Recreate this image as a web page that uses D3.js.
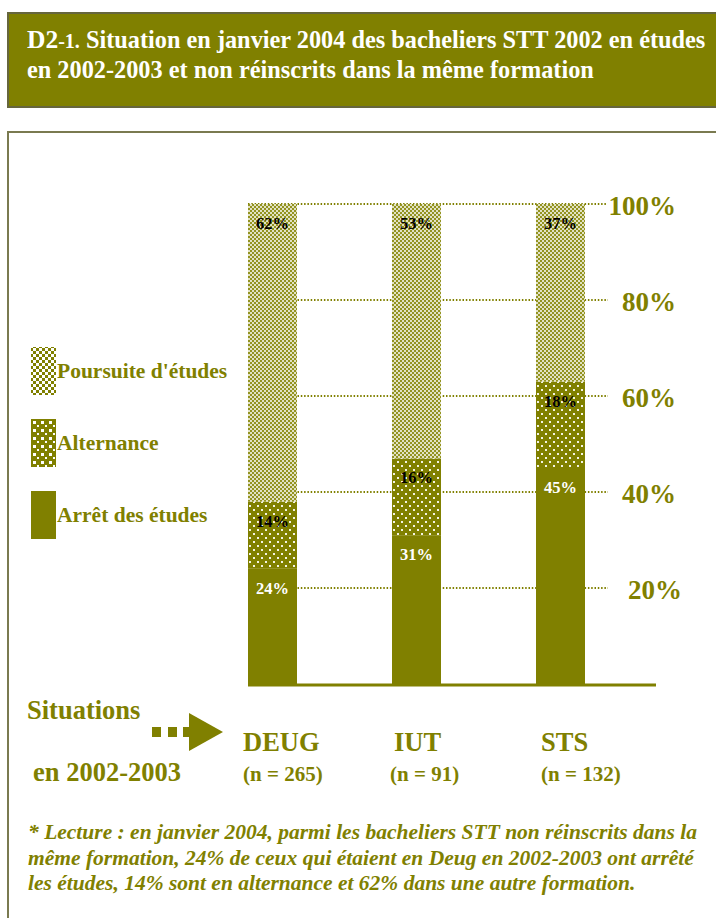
<!DOCTYPE html>
<html><head><meta charset="utf-8">
<script src="https://cdn.jsdelivr.net/npm/d3@7"></script>
<style>
html,body{margin:0;padding:0;background:#fff;}
svg{display:block;}
text{font-family:"Liberation Serif","Times New Roman",serif;font-weight:bold;}
</style></head>
<body>
<script>
// ---- data ----
const categories = ["DEUG", "IUT", "STS"];
const counts = ["(n = 265)", "(n = 91)", "(n = 132)"];
const arret = [24, 31, 45];
const alternance = [14, 16, 18];
const poursuite = [62, 53, 37];
const seriesNames = ["Arrêt des études", "Alternance", "Poursuite d'études"];
const tickValues = [20, 40, 60, 80, 100];
const titlePrefix = ["D2", "-1."];
const titleLines = [" Situation en janvier 2004 des bacheliers STT 2002 en études",
                    "en 2002-2003 et non réinscrits dans la même formation"];
const noteLines = ["* Lecture : en janvier 2004, parmi les bacheliers STT non réinscrits dans la",
                   "même formation, 24% de ceux qui étaient en Deug en 2002-2003 ont arrêté",
                   "les études, 14% sont en alternance et 62% dans une autre formation."];

const W = 716, H = 918;
const OLIVE = "#808000";
const svg = d3.select("body").append("svg").attr("width", W).attr("height", H);

// patterns
const defs = svg.append("defs");
const pChk = defs.append("pattern").attr("id", "chk").attr("patternUnits", "userSpaceOnUse")
  .attr("width", 4).attr("height", 4);
pChk.append("rect").attr("width", 4).attr("height", 4).attr("fill", "#e2e2c4");
pChk.append("rect").attr("x", 0).attr("y", 0).attr("width", 2).attr("height", 2).attr("fill", "#939320");
pChk.append("rect").attr("x", 2).attr("y", 2).attr("width", 2).attr("height", 2).attr("fill", "#939320");
const pChkL = defs.append("pattern").attr("id", "chkL").attr("patternUnits", "userSpaceOnUse")
  .attr("width", 6).attr("height", 6);
pChkL.append("rect").attr("width", 6).attr("height", 6).attr("fill", "#ffffff");
pChkL.append("rect").attr("x", 0).attr("y", 0).attr("width", 3).attr("height", 3).attr("fill", OLIVE);
pChkL.append("rect").attr("x", 3).attr("y", 3).attr("width", 3).attr("height", 3).attr("fill", OLIVE);
const pDot = defs.append("pattern").attr("id", "dot").attr("patternUnits", "userSpaceOnUse")
  .attr("width", 8).attr("height", 8);
pDot.append("rect").attr("width", 8).attr("height", 8).attr("fill", OLIVE);
pDot.append("rect").attr("x", 1).attr("y", 1).attr("width", 2).attr("height", 2).attr("fill", "#f4f4e4");
pDot.append("rect").attr("x", 5).attr("y", 5).attr("width", 2).attr("height", 2).attr("fill", "#f4f4e4");
const pDotL = defs.append("pattern").attr("id", "dotL").attr("patternUnits", "userSpaceOnUse")
  .attr("x", 31).attr("y", 419).attr("width", 8).attr("height", 8);
pDotL.append("rect").attr("width", 8).attr("height", 8).attr("fill", OLIVE);
pDotL.append("rect").attr("x", 2).attr("y", 2).attr("width", 3).attr("height", 3).attr("fill", "#ffffff");
pDotL.append("rect").attr("x", 6).attr("y", 6).attr("width", 3).attr("height", 3).attr("fill", "#ffffff");

const fills = ["#808000", "url(#dot)", "url(#chk)"];
const legendFills = ["#808000", "url(#dotL)", "url(#chkL)"];

// header
svg.append("rect").attr("x", 8).attr("y", 13).attr("width", W).attr("height", 94)
  .attr("fill", OLIVE).attr("stroke", "#66663d").attr("stroke-width", 2);
const t = svg.append("text").attr("fill", "#fff").attr("font-size", 24.3);
const l1 = t.append("tspan").attr("x", 27).attr("y", 48);
l1.append("tspan").attr("font-size", 25.5).text(titlePrefix[0]);
l1.append("tspan").attr("font-size", 20).text(titlePrefix[1]);
t.append("tspan").text(titleLines[0]);
t.append("tspan").attr("x", 27).attr("y", 78).text(titleLines[1]);

// frame
svg.append("path").attr("d", `M8,${H + 5}V132H${W + 5}`).attr("fill", "none")
  .attr("stroke", "#7a7a50").attr("stroke-width", 2);

// scales
const x = d3.scaleBand().domain(categories).range([248, 585]).paddingInner(95 / 144).paddingOuter(0);
const y = d3.scaleLinear().domain([0, 100]).range([684, 204]);

const rows = categories.map((c, i) => ({cat: c, a: arret[i], b: alternance[i], c2: poursuite[i]}));
const stack = d3.stack().keys(["a", "b", "c2"])(rows);

// gridlines
svg.append("g").selectAll("line").data(tickValues).join("line")
  .attr("x1", x("DEUG")).attr("x2", d => d === 100 ? 606 : 608)
  .attr("y1", d => y(d)).attr("y2", d => y(d))
  .attr("stroke", OLIVE).attr("stroke-width", 2).attr("stroke-dasharray", "1.5,1.8");

// tick labels
svg.append("g").selectAll("text").data(tickValues).join("text")
  .attr("x", 676).attr("y", d => y(d) + 11)
  .attr("text-anchor", "end").attr("font-size", 27).attr("fill", OLIVE)
  .attr("dx", d => d === 20 ? 6 : 0)
  .text(d => d + "%");

// bars
stack.forEach((s, si) => {
  svg.append("g").selectAll("rect").data(s).join("rect")
    .attr("x", d => x(d.data.cat)).attr("width", x.bandwidth())
    .attr("y", d => y(d[1])).attr("height", d => y(d[0]) - y(d[1]))
    .attr("fill", fills[si]);
});
// bar labels
stack.forEach((s, si) => {
  svg.append("g").selectAll("text").data(s).join("text")
    .attr("x", d => x(d.data.cat) + x.bandwidth() / 2)
    .attr("y", d => y(d[1]) + 25)
    .attr("text-anchor", "middle").attr("font-size", 16.5)
    .attr("fill", si === 0 ? "#fff" : "#000")
    .text(d => (d[1] - d[0]) + "%");
});

// baseline
svg.append("line").attr("x1", 248).attr("x2", 656).attr("y1", 685).attr("y2", 685)
  .attr("stroke", OLIVE).attr("stroke-width", 3);

// legend
const legY = [491, 419, 347];
seriesNames.forEach((n, i) => {
  svg.append("rect").attr("x", 31).attr("y", legY[i]).attr("width", 25).attr("height", 48)
    .attr("fill", legendFills[i]);
  svg.append("text").attr("x", 57).attr("y", legY[i] + 31).attr("font-size", 21.5)
    .attr("fill", OLIVE).text(n);
});

// bottom labels
svg.append("text").attr("x", 27).attr("y", 719).attr("font-size", 26.5).attr("fill", OLIVE).text("Situations");
svg.append("text").attr("x", 33).attr("y", 781).attr("font-size", 26.5).attr("fill", OLIVE).text("en 2002-2003");
// arrow
svg.append("rect").attr("x", 152).attr("y", 727).attr("width", 9).attr("height", 10).attr("fill", OLIVE);
svg.append("rect").attr("x", 168).attr("y", 727).attr("width", 9).attr("height", 10).attr("fill", OLIVE);
svg.append("rect").attr("x", 183).attr("y", 727).attr("width", 8).attr("height", 10).attr("fill", OLIVE);
svg.append("path").attr("d", "M189,713L223,732L189,751Z").attr("fill", OLIVE);

const nameOff = [-5, 2, 5];
const countOff = [-5, -2, 5];
categories.forEach((c, i) => {
  svg.append("text").attr("x", x(c) + nameOff[i]).attr("y", 751).attr("font-size", 26.5).attr("fill", OLIVE).text(c);
  svg.append("text").attr("x", x(c) + countOff[i]).attr("y", 781).attr("font-size", 21).attr("fill", OLIVE).text(counts[i]);
});

// note
const nt = svg.append("text").attr("font-size", 21.5).attr("font-style", "italic").attr("fill", OLIVE);
noteLines.forEach((l, i) => nt.append("tspan").attr("x", 28).attr("y", 839 + i * 25.5).text(l));
</script>
</body></html>
